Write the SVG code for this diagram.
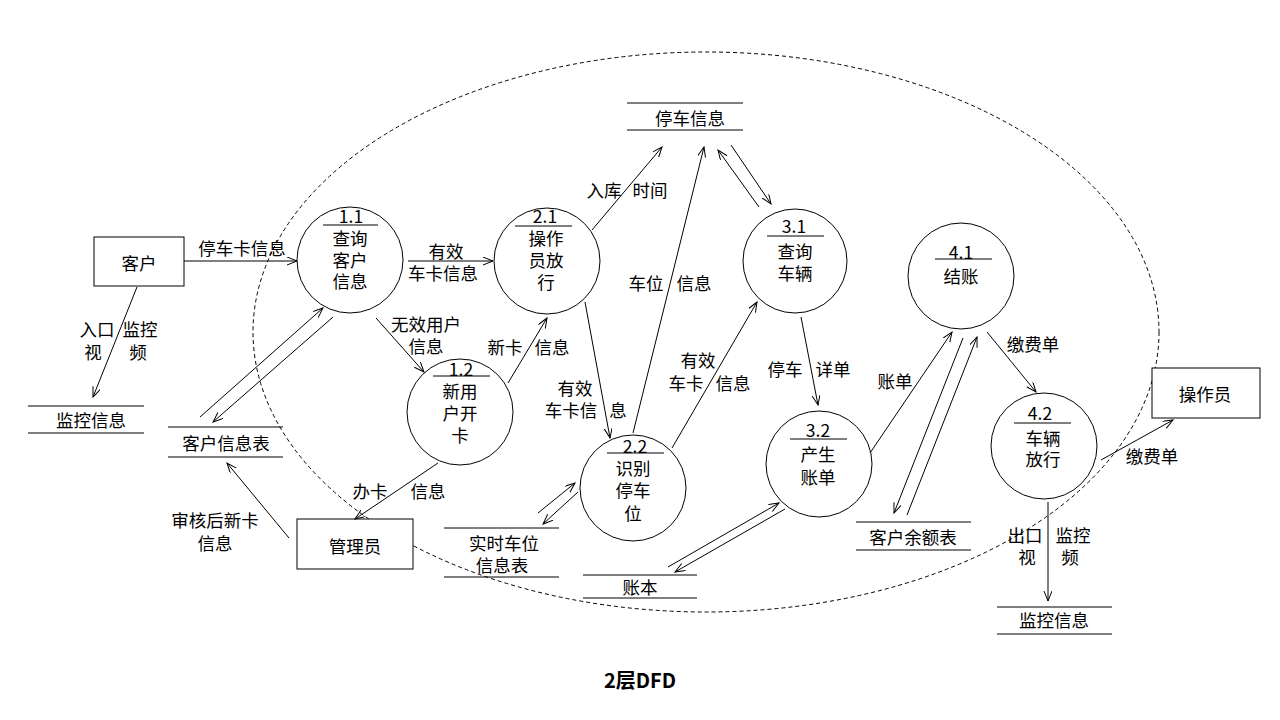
<svg xmlns="http://www.w3.org/2000/svg" width="1280" height="720" viewBox="0 0 1280 720">
<defs>
<marker id="arr" markerWidth="12" markerHeight="10" refX="10" refY="4" orient="auto" markerUnits="userSpaceOnUse">
<path d="M0,0 L10,4 L0,8" fill="none" stroke="#000" stroke-width="1"/>
</marker>
</defs>
<style>
text{font-family:"Noto Sans CJK SC","Microsoft YaHei",sans-serif;font-size:17.5px;fill:#000;text-anchor:middle;dominant-baseline:central}
.p{fill:#fff;stroke:#000;stroke-width:1}
.e{fill:#fff;stroke:#000;stroke-width:1}
.s{stroke:#000;stroke-width:1}
.c line{stroke:#000;stroke-width:1;marker-end:url(#arr)}
.t{font-size:20px;font-weight:bold}
</style>
<rect width="1280" height="720" fill="#fff"/>
<ellipse cx="706" cy="332" rx="453" ry="280" fill="none" stroke="#000" stroke-width="1" stroke-dasharray="4,3"/>

<g id="n-customer"><rect class="e" x="94" y="237" width="90" height="49"/><text x="139" y="262">客户</text></g>
<g id="n-admin"><rect class="e" x="297" y="519" width="116" height="50"/><text x="355" y="545">管理员</text></g>
<g id="n-operator"><rect class="e" x="1152" y="368" width="108" height="50"/><text x="1205" y="393">操作员</text></g>

<g id="d-monitor1"><line class="s" x1="28" y1="406" x2="144" y2="406"/><line class="s" x1="28" y1="433" x2="144" y2="433"/><text x="91" y="419">监控信息</text></g>
<g id="d-custinfo"><line class="s" x1="168" y1="427" x2="283" y2="427"/><line class="s" x1="168" y1="457" x2="283" y2="457"/><text x="226" y="442">客户信息表</text></g>
<g id="d-parking"><line class="s" x1="627" y1="103" x2="743" y2="103"/><line class="s" x1="627" y1="130" x2="743" y2="130"/><text x="690" y="117">停车信息</text></g>
<g id="d-realtime"><line class="s" x1="444" y1="528" x2="559" y2="528"/><line class="s" x1="444" y1="577" x2="559" y2="577"/><text x="504" y="542">实时车位<tspan x="502" dy="22">信息表</tspan></text></g>
<g id="d-ledger"><line class="s" x1="583" y1="575" x2="697" y2="575"/><line class="s" x1="583" y1="598" x2="697" y2="598"/><text x="640" y="586">账本</text></g>
<g id="d-balance"><line class="s" x1="856" y1="522" x2="971" y2="522"/><line class="s" x1="856" y1="550" x2="971" y2="550"/><text x="913" y="536">客户余额表</text></g>
<g id="d-monitor2"><line class="s" x1="997" y1="607" x2="1112" y2="607"/><line class="s" x1="997" y1="634" x2="1112" y2="634"/><text x="1054" y="619">监控信息</text></g>

<g id="p11"><circle class="p" cx="350" cy="260" r="53"/><line class="s" x1="323" y1="225" x2="378" y2="225"/><text x="351" y="215">1.1<tspan x="350" dy="22">查询</tspan><tspan x="350" dy="21.5">客户</tspan><tspan x="350" dy="21.5">信息</tspan></text></g>
<g id="p21"><circle class="p" cx="547" cy="261" r="53"/><line class="s" x1="515" y1="226" x2="572" y2="226"/><text x="545" y="215">2.1<tspan x="546" dy="22">操作</tspan><tspan x="546" dy="21.5">员放</tspan><tspan x="546" dy="22">行</tspan></text></g>
<g id="p12"><circle class="p" cx="460" cy="412" r="53"/><line class="s" x1="433" y1="376" x2="490" y2="376"/><text x="461" y="368">1.2<tspan x="460" dy="22">新用</tspan><tspan x="460" dy="22">户开</tspan><tspan x="460" dy="22">卡</tspan></text></g>
<g id="p31"><circle class="p" cx="795" cy="261" r="52"/><line class="s" x1="767" y1="236" x2="824" y2="236"/><text x="794" y="225">3.1<tspan x="795" dy="25">查询</tspan><tspan x="795" dy="22">车辆</tspan></text></g>
<g id="p22"><circle class="p" cx="633" cy="488" r="53"/><line class="s" x1="607" y1="453" x2="664" y2="453"/><text x="635" y="445">2.2<tspan x="633" dy="22">识别</tspan><tspan x="633" dy="22">停车</tspan><tspan x="633" dy="23">位</tspan></text></g>
<g id="p32"><circle class="p" cx="819" cy="464" r="53"/><line class="s" x1="790" y1="439" x2="847" y2="439"/><text x="818" y="429">3.2<tspan x="818" dy="24">产生</tspan><tspan x="818" dy="23">账单</tspan></text></g>
<g id="p41"><circle class="p" cx="961" cy="276" r="53"/><line class="s" x1="935" y1="259" x2="992" y2="259"/><text x="961" y="251">4.1<tspan x="961" dy="24">结账</tspan></text></g>
<g id="p42"><circle class="p" cx="1044" cy="446" r="53"/><line class="s" x1="1014" y1="423" x2="1071" y2="423"/><text x="1040" y="412">4.2<tspan x="1043" dy="25">车辆</tspan><tspan x="1043" dy="21">放行</tspan></text></g>

<g id="connectors" class="c">
<line x1="184" y1="261" x2="297" y2="261"/>
<line x1="137" y1="287" x2="93" y2="397"/>
<line x1="200" y1="417" x2="323" y2="308"/>
<line x1="333" y1="317" x2="213" y2="422"/>
<line x1="408" y1="261" x2="493" y2="261"/>
<line x1="376" y1="318" x2="424" y2="372"/>
<line x1="508" y1="383" x2="547" y2="318"/>
<line x1="592" y1="230" x2="662" y2="147"/>
<line x1="633" y1="433" x2="704" y2="147"/>
<line x1="759" y1="207" x2="718" y2="150"/>
<line x1="731" y1="145" x2="771" y2="204"/>
<line x1="585" y1="302" x2="610" y2="438"/>
<line x1="672" y1="448" x2="757" y2="302"/>
<line x1="801" y1="317" x2="818" y2="405"/>
<line x1="538" y1="513" x2="575" y2="483"/>
<line x1="578" y1="492" x2="543" y2="524"/>
<line x1="668" y1="567" x2="779" y2="503"/>
<line x1="785" y1="509" x2="675" y2="572"/>
<line x1="870" y1="453" x2="952" y2="332"/>
<line x1="963" y1="338" x2="894" y2="513"/>
<line x1="907" y1="515" x2="977" y2="337"/>
<line x1="987" y1="332" x2="1036" y2="392"/>
<line x1="1101" y1="460" x2="1173" y2="420"/>
<line x1="1048" y1="502" x2="1048" y2="601"/>
<line x1="438" y1="463" x2="355" y2="519"/>
<line x1="289" y1="538" x2="227" y2="463"/>
</g>

<g id="labels">
<text x="242" y="247">停车卡信息</text>
<text x="97" y="328">入口<tspan x="93" dy="23">视</tspan></text><text x="140" y="328">监控<tspan x="138" dy="23">频</tspan></text>
<text x="446" y="250">有效<tspan x="443" dy="22">车卡信息</tspan></text>
<text x="426" y="323">无效用户<tspan x="426" dy="22">信息</tspan></text>
<text x="505" y="346">新卡</text><text x="552" y="346">信息</text>
<text x="604" y="189">入库</text><text x="650" y="189">时间</text>
<text x="646" y="282">车位</text><text x="694" y="282">信息</text>
<text x="575" y="387">有效<tspan x="571" dy="22">车卡信</tspan><tspan x="618">息</tspan></text>
<text x="698" y="359">有效<tspan x="686" dy="23">车卡</tspan><tspan x="733">信息</tspan></text>
<text x="785" y="368">停车</text><text x="833" y="368">详单</text>
<text x="895" y="380">账单</text>
<text x="1033" y="343">缴费单</text>
<text x="1152" y="455">缴费单</text>
<text x="1025" y="534">出口<tspan x="1027" dy="22">视</tspan></text><text x="1073" y="534">监控<tspan x="1070" dy="22">频</tspan></text>
<text x="370" y="490">办卡</text><text x="428" y="490">信息</text>
<text x="215" y="519">审核后新卡<tspan x="215" dy="23">信息</tspan></text>
</g>

<text class="t" x="640" y="679">2层DFD</text>
</svg>
